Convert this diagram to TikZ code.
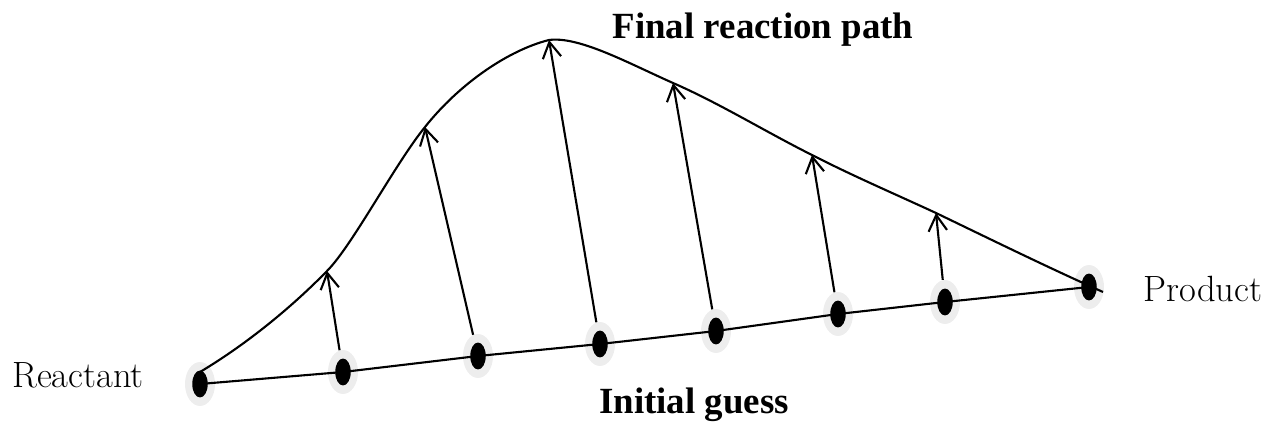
\documentclass[tikz,border=0pt]{standalone}
\usepackage{fontspec}
\usepackage{tikz}
\usetikzlibrary{arrows.meta,positioning,shapes.geometric}
\newfontfamily\headfont{Liberation Serif}

\begin{document}
\begin{tikzpicture}[
  x=0.02cm, y=-0.02cm,
  halo/.style={ellipse, fill=black!7, minimum width=0.6cm, minimum height=0.88cm,
               inner sep=0pt,
               path picture={\fill[black] (path picture bounding box.center) ellipse (0.155cm and 0.27cm);}},
  arr/.style={-{Straight Barb[length=9pt,width=10.5pt]}, line width=1.2pt},
  curve/.style={line width=1.2pt},
  sidetext/.style={font=\fontsize{20.8}{24}\selectfont},
  headtext/.style={font=\headfont\bfseries\fontsize{21}{25}\selectfont}
]
\useasboundingbox (0,0) rectangle (1265,422);

% beads of the initial guess
\node[halo] (d0) at (200,384) {};
\node[halo] (d1) at (343,372) {};
\node[halo] (d2) at (478,356) {};
\node[halo] (d3) at (600,344) {};
\node[halo] (d4) at (716,331) {};
\node[halo] (d5) at (838,314) {};
\node[halo] (d6) at (945,302) {};
\node[halo] (d7) at (1089,287) {};

% where the beads end up
\coordinate (t1) at (327,271);
\coordinate (t2) at (425,127);
\coordinate (t3) at (549,40);
\coordinate (t4) at (673,83);
\coordinate (t5) at (812,155);
\coordinate (t6) at (936,213);

\draw[curve] (d0.center) -- (d1.center) -- (d2.center) -- (d3.center) -- (d4.center)
  -- (d5.center) -- (d6.center) -- (d7.center);
\draw[curve] (200,372) .. controls (242,347) and (288,311) .. (t1)
  .. controls (352,246) and (395,164) .. (t2)
  .. controls (460,83) and (509,50) .. (t3)
  .. controls (579,36) and (628,63) .. (t4)
  .. controls (719,103) and (766,132) .. (t5)
  .. controls (853,176) and (895,194) .. (t6)
  .. controls (992,240) and (1047,267) .. (1103,292);

\draw[arr] (d1) -- (t1);
\draw[arr] (d2) -- (t2);
\draw[arr] (d3) -- (t3);
\draw[arr] (d4) -- (t4);
\draw[arr] (d5) -- (t5);
\draw[arr] (d6) -- (t6);

\node[sidetext, anchor=base] (reac) at (78,387) {Reactant};
\node[sidetext, anchor=base] (prod) at (1203,302) {Product};
\node[headtext, anchor=base] (final) at (763,39) {Final reaction path};
\node[headtext, anchor=base] (init) at (694,413) {Initial guess};
\end{tikzpicture}
\end{document}
